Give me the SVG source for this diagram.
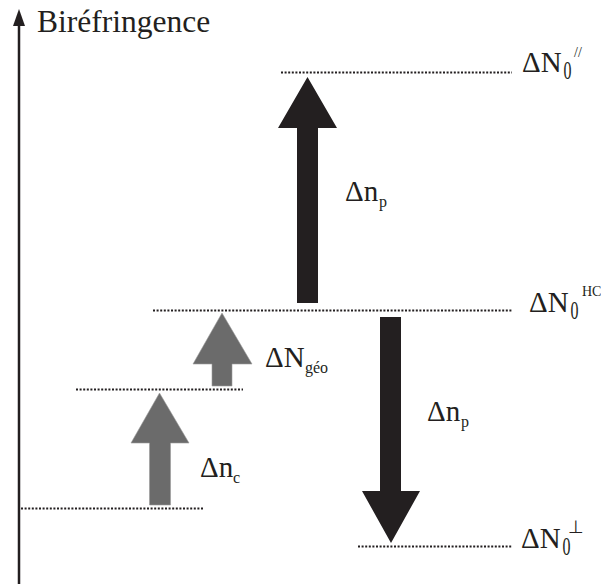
<svg xmlns="http://www.w3.org/2000/svg" width="601" height="584" viewBox="0 0 601 584">
<style>
.t{font-family:"Liberation Serif","Times New Roman",serif;fill:#231f20}
.big{font-size:29px}
.sub{font-size:16px}
.dot{stroke:#231f20;stroke-width:2;stroke-dasharray:2 1.6;fill:none}
.blk{fill:#231f20}
.gry{fill:#6b6b6b;stroke:#9a9a9a;stroke-width:0.6}
</style>
<rect width="601" height="584" fill="#fff"/>
<g id="axis">
<line x1="19" y1="24" x2="19" y2="584" stroke="#231f20" stroke-width="2.5"/>
<polygon points="19,9 13,26 25,26" fill="#231f20"/>
<text class="t" x="37" y="32" font-size="31.5">Biréfringence</text>
</g>
<g id="connectors">
<line class="dot" x1="281" y1="72.5" x2="512" y2="72.5"/>
<line class="dot" x1="153" y1="310.5" x2="512" y2="310.5"/>
<line class="dot" x1="76" y1="389.5" x2="243" y2="389.5"/>
<line class="dot" x1="21" y1="508.5" x2="203" y2="508.5"/>
<line class="dot" x1="358" y1="546.5" x2="512" y2="546.5"/>
</g>
<g id="arrow-np-up">
<polygon class="blk" points="307.5,77 337,128 318,128 318,303 297,303 297,128 278,128"/>
</g>
<g id="arrow-np-down">
<polygon class="blk" points="380,317 401,317 401,491 420,491 391,543 362,491 380,491"/>
</g>
<g id="arrow-ngeo">
<polygon class="gry" points="222,313 252,364 232,364 232,386 212,386 212,364 193,364"/>
</g>
<g id="arrow-nc">
<polygon class="gry" points="159.5,393 189,443 170.5,443 170.5,505 149.5,505 149.5,443 131,443"/>
</g>
<g id="label-np-top">
<text class="t big" x="345" y="201">Δn</text>
<text class="t sub" x="379" y="207">p</text>
</g>
<g id="label-np-bottom">
<text class="t big" x="427" y="421">Δn</text>
<text class="t sub" x="461" y="427">p</text>
</g>
<g id="label-ngeo">
<text class="t big" x="265" y="367">ΔN</text>
<text class="t sub" x="305" y="373">géo</text>
</g>
<g id="label-nc">
<text class="t big" x="200" y="477">Δn</text>
<text class="t sub" x="233" y="483">c</text>
</g>
<g id="label-N0-par">
<text class="t big" x="522" y="72">ΔN</text>
<text class="t" x="563.5" y="78.5" font-size="25" textLength="8" lengthAdjust="spacingAndGlyphs">0</text>
<text class="t" x="574" y="57" font-size="14">//</text>
</g>
<g id="label-N0-HC">
<text class="t big" x="529" y="312">ΔN</text>
<text class="t" x="570.5" y="319" font-size="25" textLength="8" lengthAdjust="spacingAndGlyphs">0</text>
<text class="t" x="582" y="296" font-size="14">HC</text>
</g>
<g id="label-N0-perp">
<text class="t big" x="521" y="548">ΔN</text>
<text class="t" x="562.5" y="555" font-size="25" textLength="8" lengthAdjust="spacingAndGlyphs">0</text>
<text x="568" y="533" font-size="18" font-family="DejaVu Sans,sans-serif" fill="#231f20">⊥</text>
</g>
</svg>
